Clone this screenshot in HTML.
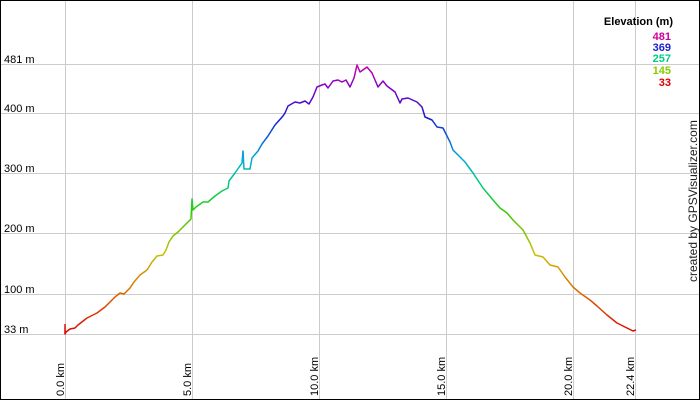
<!DOCTYPE html>
<html><head><meta charset="utf-8"><style>
body{margin:0;background:#fff;overflow:hidden}
svg{display:block}
text{font-family:"Liberation Sans",sans-serif}
</style></head><body>
<svg width="700" height="400" viewBox="0 0 700 400" xmlns="http://www.w3.org/2000/svg">
<defs>
<linearGradient id="g" gradientUnits="userSpaceOnUse" x1="0" y1="334" x2="0" y2="64">
<stop offset="0" stop-color="#dd0000"/>
<stop offset="0.15" stop-color="#dd6600"/>
<stop offset="0.3" stop-color="#c8c000"/>
<stop offset="0.45" stop-color="#33cc00"/>
<stop offset="0.55" stop-color="#00cc77"/>
<stop offset="0.65" stop-color="#00aadd"/>
<stop offset="0.8" stop-color="#1a1acc"/>
<stop offset="0.9" stop-color="#7700cc"/>
<stop offset="1" stop-color="#cc00aa"/>
</linearGradient>
</defs>
<rect x="0.5" y="0.5" width="699" height="399" fill="#fff" stroke="#000"/>
<g stroke="#cccccc" stroke-width="1">
<line x1="1" y1="64.5" x2="699" y2="64.5"/>
<line x1="1" y1="113.5" x2="699" y2="113.5"/>
<line x1="1" y1="173.5" x2="699" y2="173.5"/>
<line x1="1" y1="233.5" x2="699" y2="233.5"/>
<line x1="1" y1="294.5" x2="699" y2="294.5"/>
<line x1="1" y1="334.5" x2="699" y2="334.5"/>
<line x1="65.5" y1="1" x2="65.5" y2="399"/>
<line x1="192.5" y1="1" x2="192.5" y2="399"/>
<line x1="319.5" y1="1" x2="319.5" y2="399"/>
<line x1="446.5" y1="1" x2="446.5" y2="399"/>
<line x1="573.5" y1="1" x2="573.5" y2="399"/>
<line x1="635.5" y1="1" x2="635.5" y2="399"/>
</g>
<g font-size="11" fill="#000">
<text x="4" y="63">481 m</text>
<text x="4" y="112">400 m</text>
<text x="4" y="172">300 m</text>
<text x="4" y="232">200 m</text>
<text x="4" y="293">100 m</text>
<text x="4" y="333">33 m</text>
<text transform="translate(64,396) rotate(-90)">0.0 km</text>
<text transform="translate(191,396) rotate(-90)">5.0 km</text>
<text transform="translate(318,396) rotate(-90)">10.0 km</text>
<text transform="translate(445,396) rotate(-90)">15.0 km</text>
<text transform="translate(572,396) rotate(-90)">20.0 km</text>
<text transform="translate(634,396) rotate(-90)">22.4 km</text>
<text transform="translate(697,282) rotate(-90)" font-size="12" fill="#222">created by GPSVisualizer.com</text>
</g>
<g font-size="11" font-weight="bold" text-anchor="end">
<text x="673" y="25" fill="#000">Elevation (m)</text>
<text x="671" y="40" fill="#cc0099">481</text>
<text x="671" y="51" fill="#2222cc">369</text>
<text x="671" y="62" fill="#00cc88">257</text>
<text x="671" y="74" fill="#88cc00">145</text>
<text x="671" y="86" fill="#dd0000">33</text>
</g>
<polyline fill="none" stroke="url(#g)" stroke-width="1.5" stroke-linejoin="round" points="65,324 65,334 66,332 70,329 75,328 78,325 87,318 97,313 105,307 110,302 115,297 120,293 124,294 130,288 134,282 140,275 147,270 152,262 157,256 163,255 166,250 169,242 173,236 178,232 185,225 191,219 192,199 193,210 196,207 203,202 208,202 215,196 222,191 228,188 229,181 235,173 242,163 243,151 244,169 250,169 252,158 258,151 262,144 268,136 275,125 283,116 285,113 288,106 295,102 300,103 305,101 309,104 313,97 317,87 322,85 325,84 328,88 333,81 338,80 342,82 346,80 350,87 354,78 357,65 360,72 367,67 372,73 378,87 383,81 387,86 395,92 400,103 402,99 408,98 417,102 422,107 425,117 432,120 437,127 443,128 450,142 453,150 460,157 465,162 473,173 483,188 493,200 500,208 507,213 513,220 523,230 530,243 535,255 543,257 550,265 558,267 565,277 573,287 580,293 590,300 597,306 607,315 617,323 627,328 633,331 636,330"/>
</svg>
</body></html>
